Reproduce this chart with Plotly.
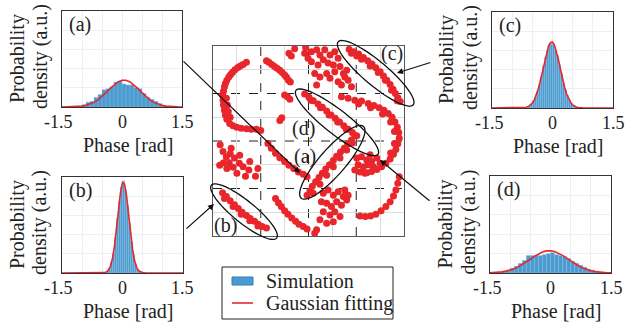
import math
import plotly.graph_objects as go

W, H = 631, 324
FONT = "Liberation Serif"
RED = "#e8262c"
BLUE = "#4b9bd1"

# ---------------- histogram data (phase in rad, density normalised) ----------------
hist_a_x = [-1.05, -0.95, -0.85, -0.75, -0.65, -0.55, -0.45, -0.35, -0.25, -0.15, -0.05, 0.05,
            0.15, 0.25, 0.35, 0.45, 0.55, 0.65, 0.75, 0.85, 0.95, 1.05, 1.15]
hist_a_y = [0.01, 0.025, 0.05, 0.06, 0.1, 0.13, 0.18, 0.19, 0.21, 0.26, 0.27, 0.24,
            0.23, 0.23, 0.2, 0.19, 0.14, 0.1, 0.08, 0.06, 0.035, 0.015, 0.005]
hist_b_x = [-0.375, -0.325, -0.275, -0.225, -0.175, -0.125, -0.075, -0.025, 0.025, 0.075,
            0.125, 0.175, 0.225, 0.275, 0.325, 0.375, 0.425]
hist_b_y = [0.02, 0.05, 0.11, 0.2, 0.37, 0.57, 0.75, 0.9, 0.96, 0.87, 0.7, 0.52, 0.33, 0.19,
            0.09, 0.04, 0.015]
hist_c_x = [-0.575, -0.525, -0.475, -0.425, -0.375, -0.325, -0.275, -0.225, -0.175, -0.125,
            -0.075, -0.025, 0.025, 0.075, 0.125, 0.175, 0.225, 0.275, 0.325, 0.375, 0.425,
            0.475, 0.525, 0.575]
hist_c_y = [0.02, 0.04, 0.07, 0.11, 0.17, 0.24, 0.33, 0.44, 0.53, 0.6, 0.66, 0.67, 0.66, 0.6,
            0.55, 0.45, 0.36, 0.26, 0.19, 0.13, 0.08, 0.045, 0.025, 0.01]
hist_d_x = [-1.25, -1.15, -1.05, -0.95, -0.85, -0.75, -0.65, -0.55, -0.45, -0.35, -0.25, -0.15,
            -0.05, 0.05, 0.15, 0.25, 0.35, 0.45, 0.55, 0.65, 0.75, 0.85, 0.95, 1.05, 1.15, 1.25]
hist_d_y = [0.01, 0.02, 0.03, 0.05, 0.07, 0.1, 0.13, 0.18, 0.18, 0.18, 0.18, 0.19, 0.2, 0.21,
            0.19, 0.18, 0.17, 0.15, 0.12, 0.1, 0.08, 0.06, 0.04, 0.03, 0.02, 0.01]

# ---------------- Gaussian fitting curves ----------------
fit_a_x = [-1.5, -1.4, -1.3, -1.2, -1.1, -1.0, -0.9, -0.8, -0.7, -0.6, -0.5, -0.4, -0.3, -0.2,
           -0.1, 0.0, 0.1, 0.2, 0.3, 0.4, 0.5, 0.6, 0.7, 0.8, 0.9, 1.0, 1.1, 1.2, 1.3, 1.4, 1.5]
fit_a_y = [0.0002, 0.0004, 0.001, 0.002, 0.0045, 0.009, 0.017, 0.029, 0.048, 0.075, 0.109,
           0.149, 0.191, 0.230, 0.261, 0.278, 0.278, 0.261, 0.230, 0.191, 0.149, 0.109, 0.075,
           0.048, 0.029, 0.017, 0.009, 0.0045, 0.002, 0.001, 0.0004]
fit_b_x = [-1.5, -1.0, -0.7, -0.55, -0.5, -0.45, -0.4, -0.35, -0.3, -0.25, -0.2, -0.15, -0.1,
           -0.05, 0.0, 0.05, 0.1, 0.15, 0.2, 0.25, 0.3, 0.35, 0.4, 0.45, 0.5, 0.55, 0.7, 1.0, 1.5]
fit_b_y = [0.0, 0.0, 0.0, 0.0003, 0.001, 0.0034, 0.0105, 0.029, 0.070, 0.148, 0.276, 0.454,
           0.658, 0.838, 0.940, 0.928, 0.807, 0.617, 0.416, 0.246, 0.129, 0.059, 0.024, 0.0085,
           0.0027, 0.0008, 0.0, 0.0, 0.0]
fit_c_x = [-1.5, -1.0, -0.8, -0.75, -0.7, -0.65, -0.6, -0.55, -0.5, -0.45, -0.4, -0.35, -0.3,
           -0.25, -0.2, -0.15, -0.1, -0.05, 0.0, 0.05, 0.1, 0.15, 0.2, 0.25, 0.3, 0.35, 0.4,
           0.45, 0.5, 0.55, 0.6, 0.65, 0.7, 0.75, 1.0, 1.5]
fit_c_y = [0.0, 0.0, 0.0007, 0.0016, 0.0037, 0.0077, 0.015, 0.029, 0.051, 0.085, 0.134, 0.201,
           0.284, 0.379, 0.478, 0.570, 0.642, 0.683, 0.687, 0.653, 0.586, 0.497, 0.399, 0.302,
           0.216, 0.146, 0.093, 0.057, 0.032, 0.017, 0.0088, 0.0043, 0.0019, 0.0008, 0.0, 0.0]
fit_d_x = fit_a_x
fit_d_y = [0.0021, 0.0039, 0.0069, 0.0118, 0.0192, 0.030, 0.044, 0.063, 0.087, 0.114, 0.142,
           0.171, 0.196, 0.216, 0.228, 0.230, 0.222, 0.205, 0.182, 0.154, 0.125, 0.097, 0.072,
           0.052, 0.035, 0.023, 0.0144, 0.0086, 0.0049, 0.0027, 0.0014]

# ---------------- constellation (I/Q) clusters ----------------
arc_tl_i = [-1.78, -1.76, -1.74, -1.71, -1.67, -1.63, -1.59, -1.54, -1.48, -1.43, -1.37, -1.30]
arc_tl_q = [1.05, 1.14, 1.21, 1.28, 1.35, 1.40, 1.45, 1.50, 1.55, 1.58, 1.61, 1.66]
arc_tm_i = [-0.88, -0.83, -0.77, -0.71, -0.66, -0.60, -0.55, -0.50, -0.46, -0.42, -0.38]
arc_tm_q = [1.69, 1.66, 1.61, 1.57, 1.53, 1.49, 1.44, 1.39, 1.34, 1.28, 1.24]
arc_l_i = [-1.80, -1.79, -1.78, -1.76, -1.74, -1.71, -1.65, -1.58, -1.50, -1.41, -1.30, -1.20,
           -1.09, -1.00, -1.72, -1.70, -1.68, -1.64]
arc_l_q = [0.97, 0.86, 0.76, 0.65, 0.55, 0.46, 0.37, 0.32, 0.29, 0.27, 0.26, 0.25, 0.25, 0.22,
           0.90, 0.76, 0.62, 0.50]
dots_i = [-0.60, -0.56, -0.50, -0.44, -0.39, -0.41, -0.36, -0.29, -0.06, -0.08]
dots_q = [0.43, 0.49, 0.97, 0.93, 0.88, 1.85, 1.79, 1.94, 1.97, 1.85]
cloud_t_i = [0.06, 0.17, 0.24, 0.34, 0.45, 0.55, 0.62, 0.31, 0.41, 0.52, 0.20, 0.06, 0.66, 0.55,
             0.73, 0.80, 0.83, 0.90, 0.13, 0.24, 0.17, 0.45, 0.62, 0.76, -0.01, 0.38, 0.69]
cloud_t_q = [1.88, 1.92, 1.81, 1.92, 1.81, 1.88, 1.74, 1.71, 1.64, 1.60, 1.60, 1.67, 1.57, 1.46,
             1.42, 1.49, 1.28, 1.14, 1.42, 1.35, 1.18, 1.32, 1.25, 1.35, 1.74, 1.42, 1.18]
arc_c_i = [0.85, 0.95, 1.05, 1.15, 1.24, 1.33, 1.41, 1.50, 1.57, 1.64, 1.71, 1.77, 1.82, 1.87,
           1.92, 0.90, 1.01, 1.11, 1.29, 1.46, 1.61, 1.74, 1.86]
arc_c_q = [1.93, 1.88, 1.83, 1.76, 1.69, 1.62, 1.54, 1.46, 1.37, 1.28, 1.19, 1.09, 1.00, 0.91,
           0.83, 1.85, 1.79, 1.72, 1.58, 1.44, 1.28, 1.07, 0.85]
arc_d_i = [-0.08, 0.01, 0.10, 0.20, 0.29, 0.38, 0.47, 0.56, 0.65, 0.74, 0.83, 0.92, 1.01,
           0.05, 0.25, 0.43, 0.61, 0.79]
arc_d_q = [0.99, 0.92, 0.85, 0.78, 0.71, 0.63, 0.55, 0.48, 0.40, 0.32, 0.25, 0.18, 0.11,
           0.86, 0.70, 0.55, 0.40, 0.25]
ring_r_i = [0.69, 0.83, 0.97, 1.11, 1.25, 1.37, 1.48, 1.58, 1.67, 1.75, 1.81, 1.86, 1.89, 1.90,
            1.87, 1.83, 1.78, 1.71, 1.62, 1.53, 1.43, 1.32, 1.22,
            1.05, 1.30, 1.55, 1.72, 1.80, 1.80, 1.72]
ring_r_q = [0.93, 0.90, 0.86, 0.84, 0.79, 0.75, 0.70, 0.65, 0.58, 0.50, 0.40, 0.29, 0.18, 0.06,
            -0.06, -0.18, -0.28, -0.38, -0.47, -0.54, -0.60, -0.64, -0.67,
            0.78, 0.70, 0.57, 0.40, 0.20, -0.05, -0.25]
cloud_r_i = [1.01, 1.11, 1.22, 1.32, 1.43, 1.04, 1.15, 1.25, 1.36, 1.08, 1.18, 0.97, 1.29, 1.50]
cloud_r_q = [-0.36, -0.33, -0.40, -0.43, -0.36, -0.50, -0.54, -0.50, -0.54, -0.65, -0.68, -0.61,
             -0.29, -0.47]
arc_a_i = [-0.03, 0.03, 0.08, 0.15, 0.22, 0.29, 0.36, 0.44, 0.52, 0.59, 0.67, 0.75, 0.82, 0.90,
           0.97, 0.10, 0.24, 0.38, 0.52, 0.66, 0.80, 0.92]
arc_a_q = [-1.14, -1.05, -0.95, -0.86, -0.77, -0.68, -0.59, -0.50, -0.41, -0.32, -0.23, -0.15,
           -0.06, 0.02, 0.11, -1.10, -0.91, -0.72, -0.54, -0.36, -0.19, -0.04]
arc_m_i = [-0.85, -0.78, -0.69, -0.60, -0.50, -0.41, -0.31, -0.21, -0.11, -0.03]
arc_m_q = [-0.05, -0.15, -0.26, -0.35, -0.43, -0.51, -0.58, -0.65, -0.70, -0.75]
cloud_l_i = [-1.85, -1.79, -1.72, -1.64, -1.55, -1.66, -1.45, -1.58, -1.37, -1.25, -1.11, -1.71,
             -1.50, -1.32, -1.78, -1.86, -1.62, -1.44, -1.23, -1.06]
cloud_l_q = [-0.08, -0.22, -0.33, -0.27, -0.36, -0.46, -0.47, -0.55, -0.54, -0.61, -0.74, -0.58,
             -0.68, -0.74, -0.46, -0.51, -0.15, -0.30, -0.43, -0.58]
arc_b_i = [-1.80, -1.72, -1.64, -1.55, -1.47, -1.39, -1.30, -1.22, -1.13, -1.05, -0.97, -0.88,
           -1.76, -1.58, -1.41, -1.23, -1.06]
arc_b_q = [-1.09, -1.17, -1.26, -1.34, -1.42, -1.50, -1.57, -1.63, -1.69, -1.75, -1.80, -1.83,
           -1.21, -1.38, -1.54, -1.68, -1.79]
arc_bm_i = [-0.69, -0.63, -0.57, -0.50, -0.43, -0.35, -0.27, -0.20, -0.11, -0.03]
arc_bm_q = [-1.21, -1.30, -1.38, -1.47, -1.54, -1.62, -1.69, -1.75, -1.80, -1.85]
cloud_b_i = [0.31, 0.41, 0.52, 0.62, 0.73, 0.27, 0.38, 0.48, 0.59, 0.69, 0.80, 0.31, 0.45, 0.55,
             0.66, 0.24, 0.38, 0.52, 0.17, 0.13, 0.76, 0.83]
cloud_b_q = [-1.10, -1.03, -1.14, -1.07, -1.17, -1.28, -1.31, -1.38, -1.28, -1.35, -1.24, -1.49,
             -1.56, -1.49, -1.59, -1.66, -1.73, -1.70, -1.87, -1.94, -1.03, -1.14]
arc_br_i = [1.90, 1.87, 1.83, 1.78, 1.71, 1.62, 1.52, 1.41, 1.30, 1.19, 1.08]
arc_br_q = [-0.75, -0.89, -1.03, -1.16, -1.28, -1.38, -1.47, -1.54, -1.58, -1.59, -1.58]

iq_i = (arc_tl_i + arc_tm_i + arc_l_i + dots_i + cloud_t_i + arc_c_i + arc_d_i + ring_r_i +
        cloud_r_i + arc_a_i + arc_m_i + cloud_l_i + arc_b_i + arc_bm_i + cloud_b_i + arc_br_i)
iq_q = (arc_tl_q + arc_tm_q + arc_l_q + dots_q + cloud_t_q + arc_c_q + arc_d_q + ring_r_q +
        cloud_r_q + arc_a_q + arc_m_q + cloud_l_q + arc_b_q + arc_bm_q + cloud_b_q + arc_br_q)

panel_names = ["(a)", "(b)", "(c)", "(d)"]
phase_ticks = [-1.5, 0, 1.5]
phase_tick_text = ["-1.5", "0", "1.5"]
legend_names = ["Simulation", "Gaussian fitting"]


def px(x):
    return x / W


def py(y):
    return 1 - y / H


fig = go.Figure()

# constellation
fig.add_trace(go.Scatter(x=iq_i, y=iq_q, mode="markers", xaxis="x", yaxis="y",
                         marker=dict(color=RED, size=7, line=dict(width=0)),
                         showlegend=False, hoverinfo="skip"))

hists = [(hist_a_x, hist_a_y, fit_a_x, fit_a_y, 0.1),
         (hist_b_x, hist_b_y, fit_b_x, fit_b_y, 0.05),
         (hist_c_x, hist_c_y, fit_c_x, fit_c_y, 0.05),
         (hist_d_x, hist_d_y, fit_d_x, fit_d_y, 0.1)]
for k, (hx, hy, fx, fy, bw) in enumerate(hists):
    ax = "x%d" % (k + 2)
    ay = "y%d" % (k + 2)
    fig.add_trace(go.Bar(x=hx, y=hy, width=[bw] * len(hx), xaxis=ax, yaxis=ay,
                         marker=dict(color=BLUE, line=dict(width=0.4, color="#8cc0e2")),
                         name=legend_names[0], showlegend=False))
    fig.add_trace(go.Scatter(x=fx, y=fy, mode="lines", xaxis=ax, yaxis=ay,
                             line=dict(color=RED, width=1.6),
                             name=legend_names[1], showlegend=False))

# panel geometry (pixels): left, right, top, bottom
panels = [(62, 182, 11, 107), (62, 183, 177, 273), (492, 613, 12, 108), (490, 611, 176, 273)]
scat = (213, 404, 46, 236)

layout = dict(
    template="none",
    width=W, height=H, margin=dict(l=0, r=0, t=0, b=0, pad=0, autoexpand=False),
    paper_bgcolor="white", plot_bgcolor="white",
    font=dict(family=FONT, size=19, color="#222"),
    bargap=0, barmode="overlay", showlegend=False,
    xaxis=dict(domain=[px(scat[0]), px(scat[1])], range=[-2, 2], automargin=False,
               tickvals=[-1.5, -0.5, 0.5, 1.5], showticklabels=False, ticks="",
               showgrid=True, gridcolor="#dcdcdc", gridwidth=1, zeroline=False,
               showline=True, mirror=True, linecolor="#555", linewidth=1, fixedrange=True),
    yaxis=dict(domain=[py(scat[3]), py(scat[2])], range=[-2, 2], automargin=False,
               tickvals=[-1.5, -0.5, 0.5, 1.5], showticklabels=False, ticks="",
               showgrid=True, gridcolor="#dcdcdc", gridwidth=1, zeroline=False,
               showline=True, mirror=True, linecolor="#555", linewidth=1, fixedrange=True),
)
for k, (l, r, t, b) in enumerate(panels):
    layout["xaxis%d" % (k + 2)] = dict(
        domain=[px(l), px(r)], range=[-1.5, 1.5], anchor="y%d" % (k + 2), automargin=False,
        tickvals=phase_ticks, showticklabels=False, ticks="",
        showgrid=True, gridcolor="#efefef", zeroline=False,
        minor=dict(dtick=0.5, showgrid=True, gridcolor="#efefef"),
        showline=True, mirror=True, linecolor="#333", linewidth=1)
    layout["yaxis%d" % (k + 2)] = dict(
        domain=[py(b), py(t)], range=[0, 1], anchor="x%d" % (k + 2), automargin=False,
        showticklabels=False, ticks="", dtick=0.2,
        showgrid=True, gridcolor="#efefef", zeroline=False,
        showline=True, mirror=True, linecolor="#333", linewidth=1)
fig.update_layout(**layout)

# dashed decision lines in constellation
for v in [-1, 0, 1]:
    fig.add_shape(type="line", xref="x", yref="y", x0=v, x1=v, y0=-2, y1=2,
                  line=dict(color="#222", width=1, dash="dash"), layer="below")
    fig.add_shape(type="line", xref="x", yref="y", x0=-2, x1=2, y0=v, y1=v,
                  line=dict(color="#222", width=1, dash="dash"), layer="below")


def ellipse_path(cx, cy, a, b, ang):
    th = math.radians(ang)
    pts = []
    for j in range(73):
        t = 2 * math.pi * j / 72
        x = cx + a * math.cos(t) * math.cos(th) - b * math.sin(t) * math.sin(th)
        y = cy + a * math.cos(t) * math.sin(th) + b * math.sin(t) * math.cos(th)
        pts.append("%.5f,%.5f" % (px(x), py(y)))
    return "M " + " L ".join(pts) + " Z"


for (cx, cy, a, b, ang) in [(375.7, 73.3, 49, 12, 40), (337, 122.3, 52, 12, 38),
                            (332.3, 162.3, 47.5, 13, -49), (244, 211.7, 42, 11, 39)]:
    fig.add_shape(type="path", xref="paper", yref="paper", path=ellipse_path(cx, cy, a, b, ang),
                  line=dict(color="#111", width=1.3), fillcolor="rgba(0,0,0,0)")

# legend box drawn by hand (compact row spacing as in the reference)
fig.add_shape(type="rect", xref="paper", yref="paper", x0=px(222), x1=px(393), y0=py(319),
              y1=py(267), line=dict(color="#222", width=1), fillcolor="white")
fig.add_shape(type="rect", xref="paper", yref="paper", x0=px(232), x1=px(253), y0=py(285),
              y1=py(277), line=dict(color="#2f7fb8", width=1), fillcolor=BLUE)
fig.add_shape(type="line", xref="paper", yref="paper", x0=px(232), x1=px(253), y0=py(303),
              y1=py(303), line=dict(color=RED, width=1.6))

anns = []
# arrows from panels to ellipses: (head_x, head_y, tail_x, tail_y)
for hx, hy, tx, ty in [(300, 173, 182, 60), (214, 204, 185, 230),
                       (397, 73, 432, 62), (380, 160, 431, 202)]:
    anns.append(dict(x=px(hx), y=py(hy), xref="paper", yref="paper", text="",
                     showarrow=True, ax=tx - hx, ay=ty - hy, arrowhead=2, arrowsize=1,
                     arrowwidth=1.2, arrowcolor="#111", standoff=0))


def label(text, x, y, angle=0, anchor="center", size=20):
    return dict(x=px(x), y=py(y), xref="paper", yref="paper", text=text, textangle=angle,
                xanchor=anchor, yanchor="middle", showarrow=False,
                font=dict(family=FONT, size=size, color="#222"))


anns.append(label(legend_names[0], 264, 281, anchor="left"))
anns.append(label(legend_names[1], 264, 303, anchor="left"))

# labels in constellation
for name, x, y in [("(a)", 305, 157), ("(d)", 303, 128), ("(c)", 392, 54), ("(b)", 225, 225)]:
    anns.append(label(name, x, y))

# panel labels, tick labels and axis titles
for k, (l, r, t, b) in enumerate(panels):
    anns.append(label(panel_names[k], l + 18, t + 13))
    for tv, tt in zip(phase_ticks, phase_tick_text):
        xpix = l + (tv + 1.5) / 3.0 * (r - l)
        anns.append(label(tt, xpix - (3 if tt.startswith("-") else 0), b + 15, size=18))
    cy = (t + b) / 2
    anns.append(label("Probability", l - 45, cy, -90))
    anns.append(label("density (a.u.)", l - 22, cy - 2, -90))
    anns.append(label("Phase [rad]", (l + r) / 2 + 6, b + 38))
fig.update_layout(annotations=anns)

fig.write_html("out.html", config={"displayModeBar": False, "staticPlot": True},
               post_script="document.body.style.margin='0px';document.body.style.padding='0px';")
